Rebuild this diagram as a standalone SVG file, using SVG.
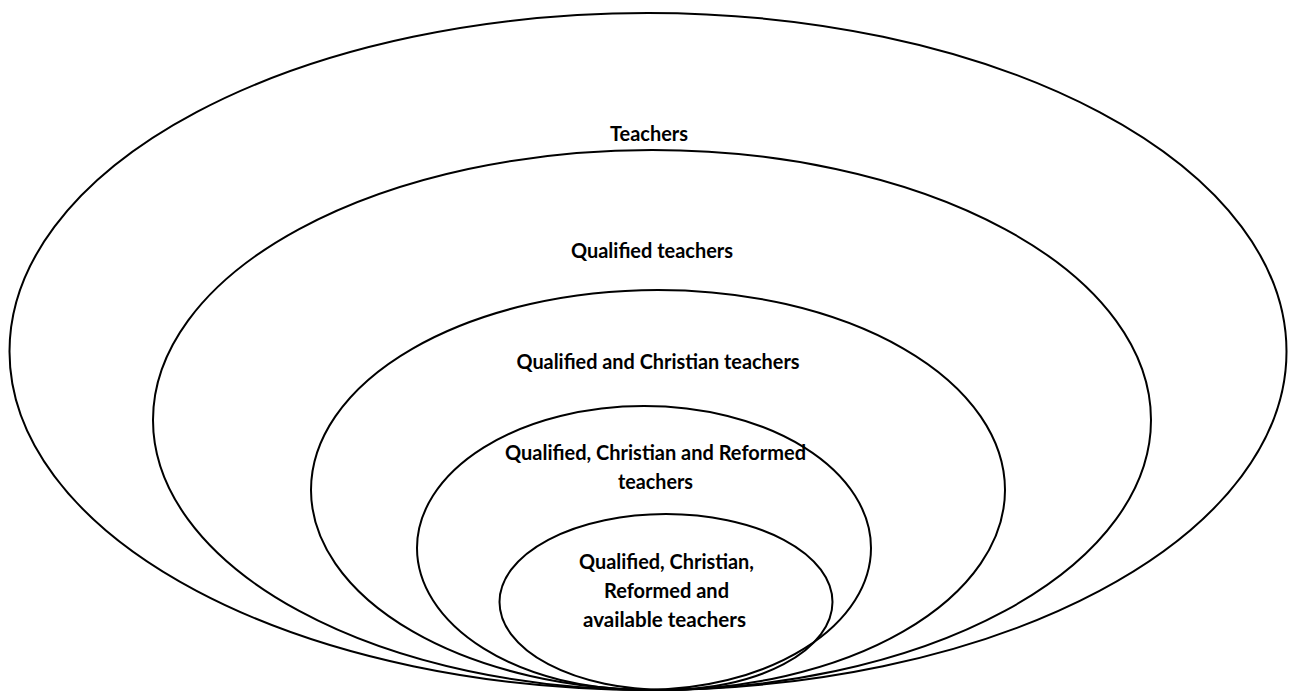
<svg xmlns="http://www.w3.org/2000/svg" width="1289" height="695" viewBox="0 0 1289 695">
<style>
.e{fill:none;stroke:#000;stroke-width:2}
.t{font-family:Lato,"Liberation Sans",sans-serif;font-weight:bold;font-size:21px;fill:#000;text-anchor:middle}
</style>
<rect width="1289" height="695" fill="#fff"/>
<g id="n1"><ellipse class="e" cx="648" cy="351.5" rx="638.5" ry="338.5"/><text class="t" x="649" y="141" textLength="78" lengthAdjust="spacingAndGlyphs">Teachers</text></g>
<g id="n2"><ellipse class="e" cx="652" cy="420" rx="499" ry="270"/><text class="t" x="652" y="258" textLength="162" lengthAdjust="spacingAndGlyphs">Qualified teachers</text></g>
<g id="n3"><ellipse class="e" cx="658" cy="490" rx="347" ry="200"/><text class="t" x="658" y="369" textLength="283" lengthAdjust="spacingAndGlyphs">Qualified and Christian teachers</text></g>
<g id="n4"><ellipse class="e" cx="644" cy="548" rx="227" ry="142"/><text class="t" x="655.5" y="460" textLength="301" lengthAdjust="spacingAndGlyphs">Qualified, Christian and Reformed</text><text class="t" x="655.5" y="489" textLength="75" lengthAdjust="spacingAndGlyphs">teachers</text></g>
<g id="n5"><ellipse class="e" cx="666" cy="602" rx="166.5" ry="88"/><text class="t" x="666.5" y="569" textLength="175" lengthAdjust="spacingAndGlyphs">Qualified, Christian,</text><text class="t" x="666.5" y="598" textLength="125" lengthAdjust="spacingAndGlyphs">Reformed and</text><text class="t" x="664.5" y="627" textLength="163" lengthAdjust="spacingAndGlyphs">available teachers</text></g>
<g id="connectors"></g>
</svg>
